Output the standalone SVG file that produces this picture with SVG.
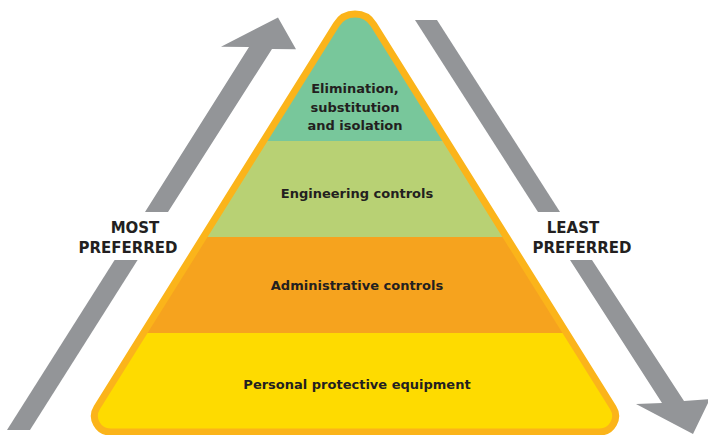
<svg xmlns="http://www.w3.org/2000/svg" width="708" height="435" viewBox="0 0 708 435">
<style>
.lbl{font-family:"DejaVu Sans","Liberation Sans",sans-serif;font-weight:bold;font-size:13px;fill:#231F20;text-anchor:middle}
.side{font-size:15px}
.arrow{fill:#939598}
</style>
<defs>
<path id="pyr" d="M336.3,24.5 A22,22 0 0 1 373.7,24.5 L613.1,407.5 A16,16 0 0 1 599.5,432 L110.5,432 A16,16 0 0 1 96.9,407.5 Z"/>
<clipPath id="pclip"><use href="#pyr"/></clipPath>
</defs>
<rect width="708" height="435" fill="#FFFFFF"/>
<g id="connectors">
<g id="arrow-most">
<polygon class="arrow" points="7,430 30,430 137.6,260 114.6,260"/>
<polygon class="arrow" points="145,212 168,212 272,49 296,49.3 278,17.5 221,46.7 249,47"/>
</g>
<g id="arrow-least">
<polygon class="arrow" points="415,20 437,20 560,212 538,212"/>
<polygon class="arrow" points="570,260 592,260 684,401 710,399 693,434 636,404 662,403"/>
</g>
</g>
<g id="pyramid">
<g clip-path="url(#pclip)">
<g id="tier-elimination"><rect x="60" y="0" width="600" height="141" fill="#78C79B"/></g>
<g id="tier-engineering"><rect x="60" y="141" width="600" height="96" fill="#B8D174"/></g>
<g id="tier-administrative"><rect x="60" y="237" width="600" height="96" fill="#F6A31E"/></g>
<g id="tier-ppe"><rect x="60" y="333" width="600" height="102" fill="#FEDB00"/></g>
</g>
<use href="#pyr" fill="none" stroke="#FBB41A" stroke-width="7"/>
</g>
<g id="label-elimination">
<text class="lbl" x="355" y="93">Elimination,</text>
<text class="lbl" x="355" y="112">substitution</text>
<text class="lbl" x="355" y="130">and isolation</text>
</g>
<g id="label-engineering"><text class="lbl" x="357" y="198">Engineering controls</text></g>
<g id="label-administrative"><text class="lbl" x="357" y="290">Administrative controls</text></g>
<g id="label-ppe"><text class="lbl" x="357" y="389">Personal protective equipment</text></g>
<g id="label-most">
<text class="lbl side" x="135" y="233">MOST</text>
<text class="lbl side" x="128" y="253">PREFERRED</text>
</g>
<g id="label-least">
<text class="lbl side" x="573" y="233">LEAST</text>
<text class="lbl side" x="582" y="253">PREFERRED</text>
</g>
</svg>
